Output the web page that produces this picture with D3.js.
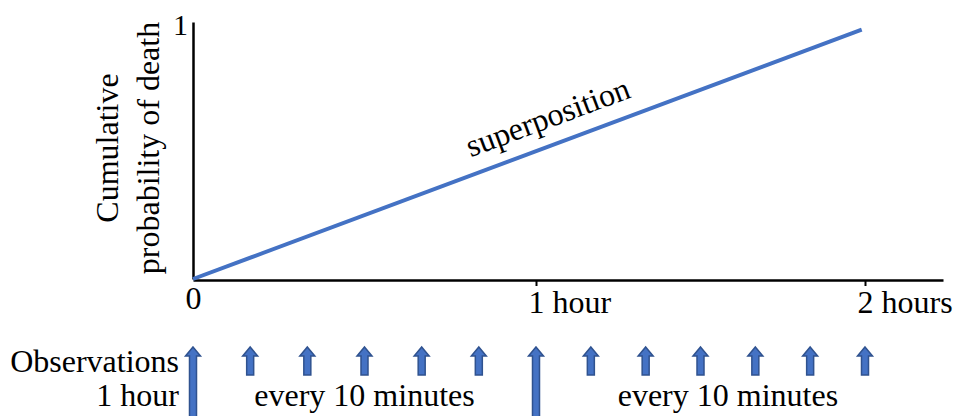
<!DOCTYPE html>
<html>
<head>
<meta charset="utf-8">
<script src="https://cdn.jsdelivr.net/npm/d3@7"></script>
<style>
  html, body { margin: 0; padding: 0; background: #fff; }
  svg { display: block; }
  svg text { font-family: "Liberation Serif", "Times New Roman", serif !important; fill: #000; }
</style>
</head>
<body>
<svg id="chart" width="956" height="416"></svg>
<script>
// ---- data ----
const xTickValues = [0, 1, 2];
const xTickLabels = ["0", "1 hour", "2 hours"];
const yTickValues = [1];
const yTickLabels = ["1"];
const superTimes = [0, 1.99];          // hours
const superValues = [0, 0.97];         // cumulative probability of death
const lineLabel = "superposition";
const yLabelLines = ["Cumulative", "probability of death"];
const hourlyObs = [0, 1];              // observations every 1 hour
const tenMinObs = [0.1667, 0.3333, 0.5, 0.6667, 0.8333,
                   1.1667, 1.3333, 1.5, 1.6667, 1.8333, 2.0]; // every 10 minutes
const obsRowLabel = "Observations";
const groupLabels = [
  { text: "1 hour", at: 0, anchor: "end" },
  { text: "every 10 minutes", at: 0.5, anchor: "middle" },
  { text: "every 10 minutes", at: 1.5833, anchor: "middle" }
];

// ---- layout ----
const FONT = '"Liberation Serif", "Times New Roman", serif';
const svg = d3.select("#chart").attr("font-family", FONT);
const blue = "#4472C4";
const arrowFill = "#4472C4";
const arrowStroke = "#2F528F";
const fontSize = 32;

const x = d3.scaleLinear().domain([0, 1, 2, 2.24]).range([193, 536, 865, 943]);
const y = d3.scaleLinear().domain([0, 1]).range([279, 22]);
const axisY0 = 280;

// x axis
const xAxis = d3.axisBottom(x)
  .tickValues(xTickValues)
  .tickFormat((d, i) => xTickLabels[i])
  .tickSize(6)
  .tickSizeOuter(0)
  .tickPadding(4);
const gx = svg.append("g").attr("transform", `translate(0,${axisY0})`).call(xAxis)
  .attr("font-family", FONT);
gx.select(".domain").attr("stroke", "#000").attr("stroke-width", 2.5);
gx.selectAll(".tick line").attr("stroke", "#000").attr("stroke-width", 2)
  .attr("display", d => d === 0 ? "none" : null);
gx.selectAll(".tick text")
  .attr("font-size", fontSize)
  .attr("font-family", FONT)
  .attr("fill", "#000")
  .attr("text-anchor", d => d === 0 ? "middle" : "start")
  .attr("dx", d => d === 0 ? 0 : -8)
  .attr("dy", d => d === 0 ? "0.59em" : "0.71em");

// y axis
const yAxis = d3.axisLeft(y)
  .tickValues(yTickValues)
  .tickFormat((d, i) => yTickLabels[i])
  .tickSize(0)
  .tickSizeOuter(0)
  .tickPadding(5);
const gy = svg.append("g").attr("transform", `translate(${x(0)},0)`).call(yAxis)
  .attr("font-family", FONT);
gy.select(".domain").attr("stroke", "#000").attr("stroke-width", 2.5);
gy.selectAll(".tick text")
  .attr("font-size", 30)
  .attr("font-family", FONT)
  .attr("fill", "#000")
  .attr("dy", "0.4em");

// y label
const yLabelX = [118, 159];
const yLabelCenter = 148;
yLabelLines.forEach((t, i) => {
  svg.append("text")
    .attr("transform", `translate(${yLabelX[i]},${yLabelCenter}) rotate(-90)`)
    .attr("text-anchor", "middle")
    .attr("font-family", FONT)
    .attr("font-size", fontSize)
    .text(t);
});

// superposition line
const linePts = superTimes.map((t, i) => [t, superValues[i]]);
const line = d3.line().x(d => x(d[0])).y(d => y(d[1]));
svg.append("path")
  .datum(linePts)
  .attr("d", line)
  .attr("fill", "none")
  .attr("stroke", blue)
  .attr("stroke-width", 4);

// line label, rotated along the line
const p0 = [x(linePts[0][0]), y(linePts[0][1])];
const p1 = [x(linePts[1][0]), y(linePts[1][1])];
const ang = Math.atan2(p1[1] - p0[1], p1[0] - p0[0]);
const labelFrac = 0.545;
const lp = d3.interpolate(p0, p1)(labelFrac);
const off = 17;
const bx = lp[0] + off * Math.sin(ang);
const by = lp[1] - off * Math.cos(ang);
svg.append("text")
  .attr("transform", `translate(${bx},${by}) rotate(${ang * 180 / Math.PI})`)
  .attr("text-anchor", "middle")
  .attr("font-family", FONT)
  .attr("font-size", fontSize)
  .text(lineLabel);

// observation arrows
const arrowTop = 347;
function arrowPath(cx, top, bottom) {
  const hw = 7.5, sw = 3.5, hh = 9;
  return `M${cx},${top} L${cx + hw},${top + hh} L${cx + sw},${top + hh} L${cx + sw},${bottom} ` +
         `L${cx - sw},${bottom} L${cx - sw},${top + hh} L${cx - hw},${top + hh} Z`;
}
svg.append("g").selectAll("path.big")
  .data(hourlyObs).join("path")
  .attr("d", d => arrowPath(x(d), arrowTop, 422))
  .attr("fill", arrowFill).attr("stroke", arrowStroke).attr("stroke-width", 1.5);
svg.append("g").selectAll("path.small")
  .data(tenMinObs).join("path")
  .attr("d", d => arrowPath(x(d), arrowTop, arrowTop + 28))
  .attr("fill", arrowFill).attr("stroke", arrowStroke).attr("stroke-width", 1.5);

// observation labels
svg.append("text")
  .attr("x", x(0) - 14).attr("y", 372)
  .attr("text-anchor", "end")
  .attr("font-family", FONT)
  .attr("font-size", fontSize)
  .text(obsRowLabel);
groupLabels.forEach(g => {
  svg.append("text")
    .attr("x", g.anchor === "end" ? x(g.at) - 14 : x(g.at))
    .attr("y", 406)
    .attr("text-anchor", g.anchor)
    .attr("font-family", FONT)
    .attr("font-size", fontSize)
    .text(g.text);
});
</script>
</body>
</html>
